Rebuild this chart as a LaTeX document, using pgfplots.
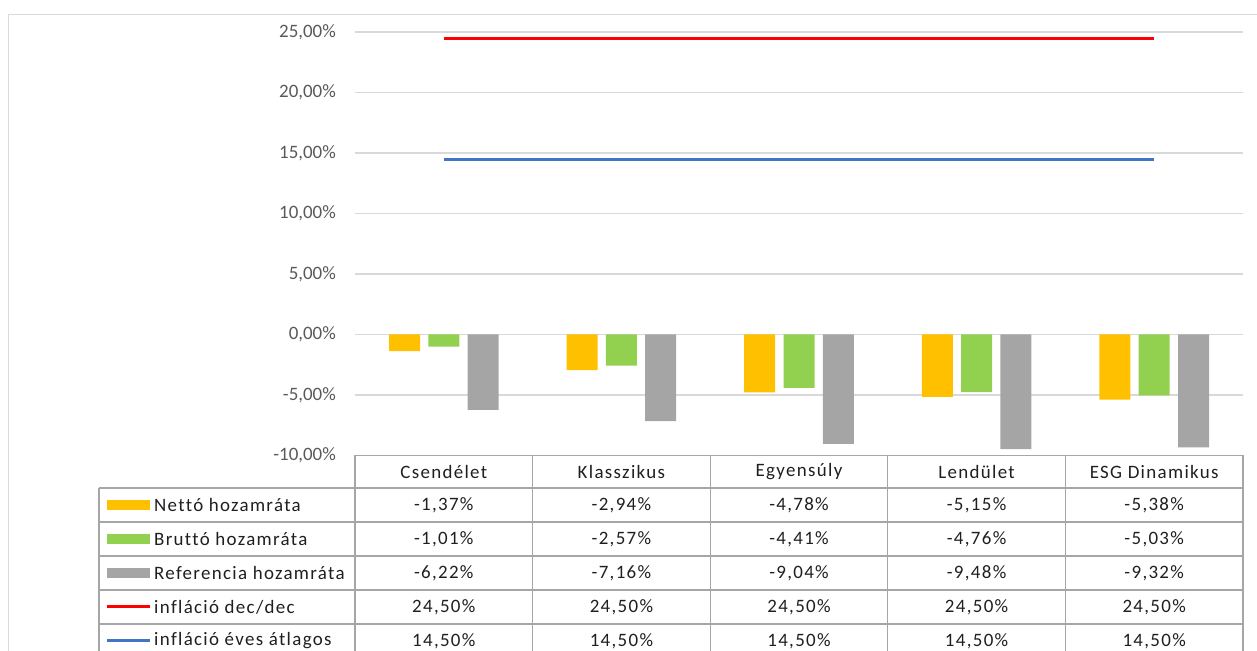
\documentclass[border=0pt]{standalone}
\usepackage{pgfplots}
\pgfplotsset{compat=1.18}
\usepackage{pgfplotstable}
\usepackage{fontspec}
\setmainfont{Carlito}
\newfontfamily\tabfont{Carlito}[LetterSpace=7, Ligatures={NoCommon}]

\definecolor{netto}{HTML}{FFC000}
\definecolor{brutto}{HTML}{92D050}
\definecolor{refgray}{HTML}{A5A5A5}
\definecolor{inflred}{HTML}{FF0000}
\definecolor{inflblue}{HTML}{4472C4}
\definecolor{gridgray}{HTML}{D9D9D9}
\definecolor{tablegray}{HTML}{A6A6A6}
\definecolor{ticktext}{HTML}{595959}
\definecolor{celltext}{HTML}{1F1F1F}

% hozamok es inflacio, %-ban
\pgfplotstableread{
x netto brutto referencia dec atlag
0 -1.37 -1.01 -6.22 24.5 14.5
1 -2.94 -2.57 -7.16 24.5 14.5
2 -4.78 -4.41 -9.04 24.5 14.5
3 -5.15 -4.76 -9.48 24.5 14.5
4 -5.38 -5.03 -9.32 24.5 14.5
}\datatable

\newcommand{\fs}{\fontsize{19}{22}\selectfont}

\begin{document}
\begin{tikzpicture}[x=1bp,y=1bp]
\path[use as bounding box] (0,0) rectangle (1257,651);

% keret
\draw[gridgray, line width=1.3bp] (8.5,0) -- (8.5,636.7) -- (1257,636.7);

\begin{axis}[
    at={(355bp,195.5bp)}, anchor=south west,
    scale only axis, width=888bp, height=423.5bp,
    xmin=-0.5, xmax=4.5, ymin=-10, ymax=25,
    xtick=\empty,
    ytick={-10,-5,0,5,10,15,20,25},
    yticklabels={{-10,00\%},{-5,00\%},{0,00\%},{5,00\%},{10,00\%},{15,00\%},{20,00\%},{25,00\%}},
    yticklabel style={font=\fs, text=ticktext, anchor=east, inner sep=0pt, xshift=-19bp},
    axis line style={draw=none},
    ymajorgrids, grid style={draw=gridgray, line width=1.3bp},
    major tick length=0pt,
    ybar=8.3bp, bar width=31bp,
    clip=false,
]
\addplot[fill=netto, draw=none] table[x=x, y=netto] {\datatable};
\addplot[fill=brutto, draw=none] table[x=x, y=brutto] {\datatable};
\addplot[fill=refgray, draw=none] table[x=x, y=referencia] {\datatable};
\addplot[sharp plot, inflred, line width=3bp] table[x=x, y=dec] {\datatable};
\addplot[sharp plot, inflblue, line width=3bp] table[x=x, y=atlag] {\datatable};
\end{axis}

% adattabla
\begin{scope}[tablegray, line width=1.3bp]
\draw (355,195.5) -- (1243,195.5);
\foreach \y in {163,129,95,61,27} \draw (99,\y) -- (1243,\y);
\draw (99,163) -- (99,0);
\foreach \x in {355,532.6,710.2,887.8,1065.4,1243} \draw (\x,195.5) -- (\x,0);
\end{scope}

\begin{scope}[every node/.style={font=\fs\tabfont, text=celltext, inner sep=0pt}]
\foreach \n [count=\i from 0] in {Csendélet,Klasszikus,Egyensúly,Lendület,ESG Dinamikus}
  \node at ({443.8+177.6*\i},179.25) {\n};
% Netto
\node at (443.8,146) {-1,37\%};  \node at (621.4,146) {-2,94\%};  \node at (799,146) {-4,78\%};
\node at (976.6,146) {-5,15\%};  \node at (1154.2,146) {-5,38\%};
% Brutto
\node at (443.8,112) {-1,01\%};  \node at (621.4,112) {-2,57\%};  \node at (799,112) {-4,41\%};
\node at (976.6,112) {-4,76\%};  \node at (1154.2,112) {-5,03\%};
% Referencia
\node at (443.8,78) {-6,22\%};  \node at (621.4,78) {-7,16\%};  \node at (799,78) {-9,04\%};
\node at (976.6,78) {-9,48\%};  \node at (1154.2,78) {-9,32\%};
% inflacio
\foreach \x in {443.8,621.4,799,976.6,1154.2} {
  \node at (\x,44) {24,50\%};
  \node at (\x,10) {14,50\%};
}
% jelmagyarazat
\fill[netto] (107,141) rectangle (150,151);
\fill[brutto] (107,107) rectangle (150,117);
\fill[refgray] (107,73) rectangle (150,83);
\draw[inflred, line width=3bp] (107,44) -- (150,44);
\draw[inflblue, line width=3bp] (107,10) -- (150,10);
\node[anchor=west] at (154,146) {Nettó hozamráta};
\node[anchor=west] at (154,112) {Bruttó hozamráta};
\node[anchor=west] at (154,78) {Referencia hozamráta};
\node[anchor=west] at (154,44) {infláció dec/dec};
\node[anchor=west] at (154,10) {infláció éves átlagos};
\end{scope}
\end{tikzpicture}
\end{document}
